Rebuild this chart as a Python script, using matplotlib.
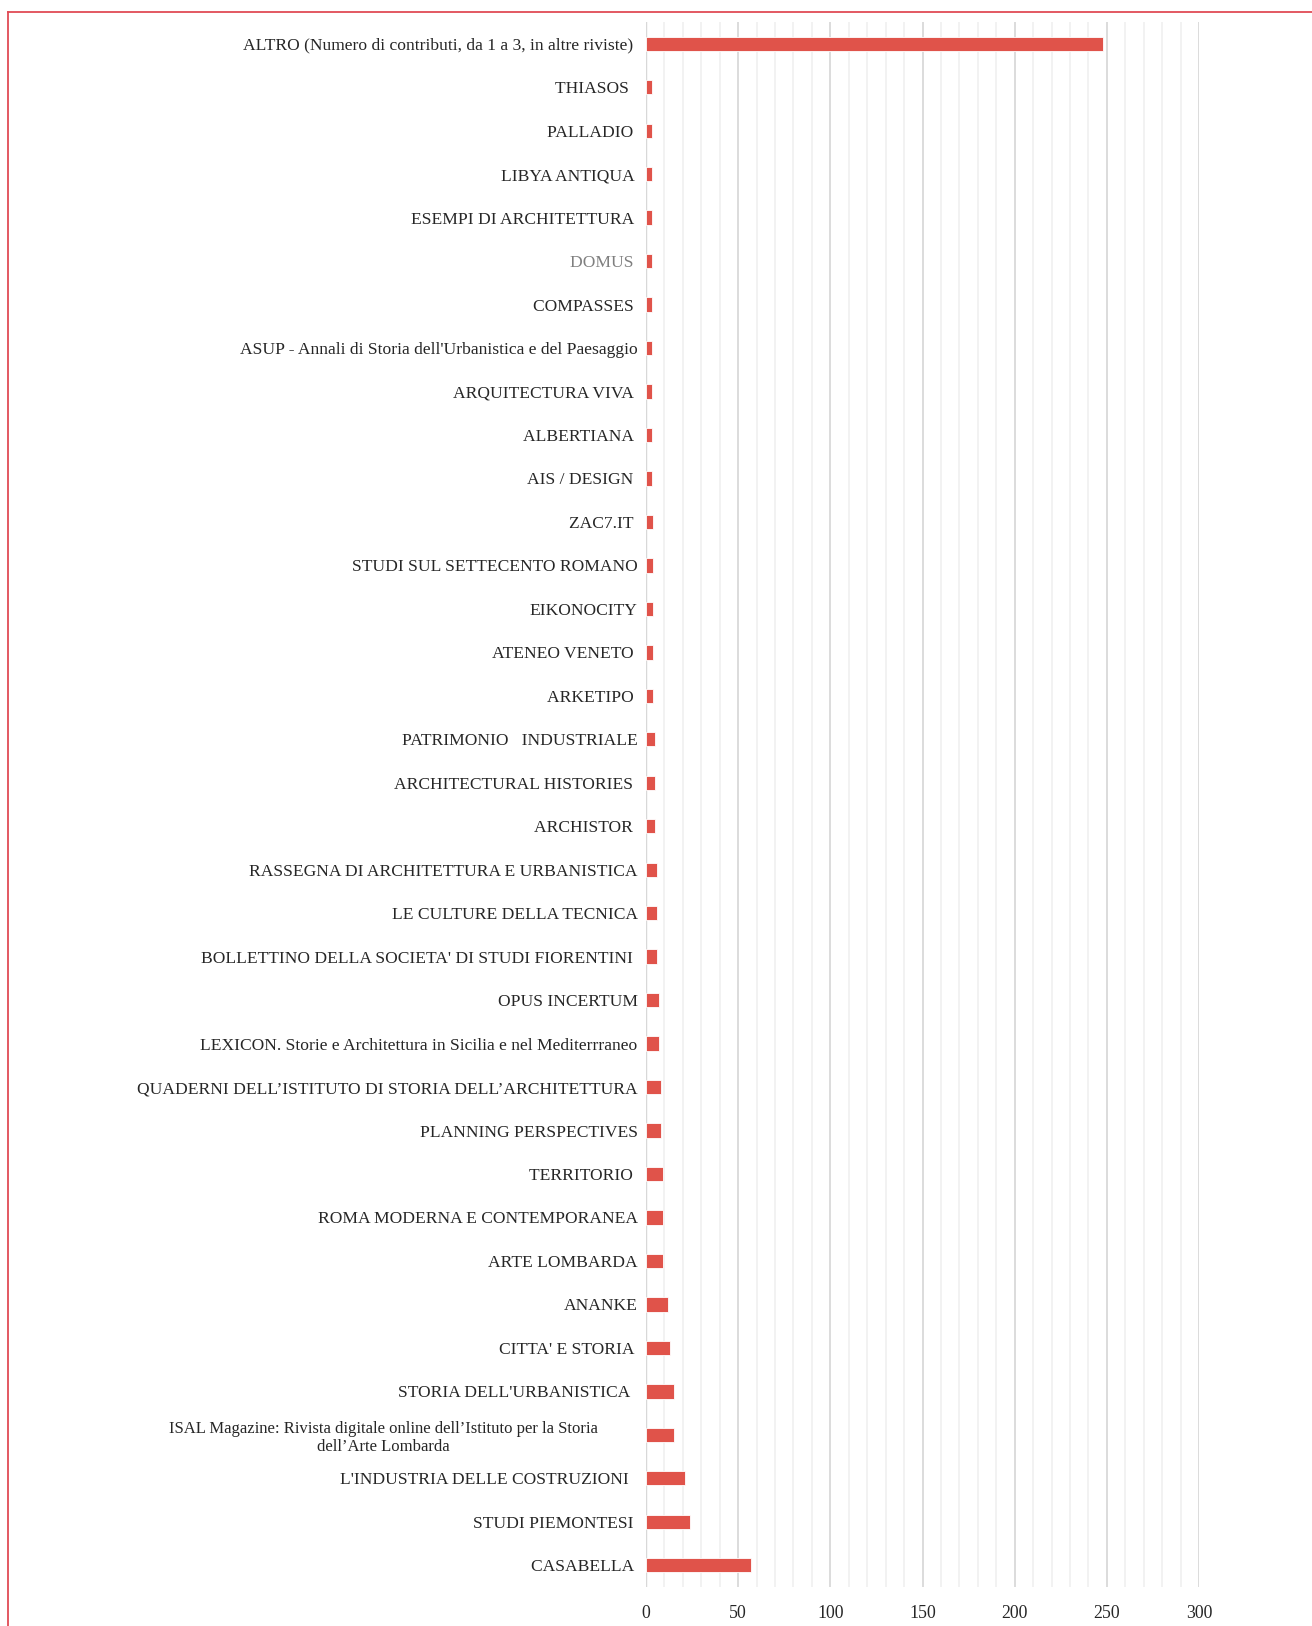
import matplotlib
matplotlib.use("Agg")
import matplotlib.pyplot as plt
from matplotlib.lines import Line2D
from matplotlib.transforms import ScaledTranslation

# Data (top to bottom as displayed)
journals = [
    "ALTRO (Numero di contributi, da 1 a 3, in altre riviste) ",
    "THIASOS  ",
    "PALLADIO ",
    "LIBYA ANTIQUA ",
    "ESEMPI DI ARCHITETTURA ",
    "DOMUS ",
    "COMPASSES ",
    "ASUP - Annali di Storia dell'Urbanistica e del Paesaggio",
    "ARQUITECTURA VIVA ",
    "ALBERTIANA ",
    "AIS / DESIGN ",
    "ZAC7.IT ",
    "STUDI SUL SETTECENTO ROMANO",
    "EIKONOCITY",
    "ATENEO VENETO ",
    "ARKETIPO ",
    "PATRIMONIO   INDUSTRIALE",
    "ARCHITECTURAL HISTORIES ",
    "ARCHISTOR ",
    "RASSEGNA DI ARCHITETTURA E URBANISTICA",
    "LE CULTURE DELLA TECNICA",
    "BOLLETTINO DELLA SOCIETA' DI STUDI FIORENTINI ",
    "OPUS INCERTUM",
    "LEXICON. Storie e Architettura in Sicilia e nel Mediterrraneo",
    "QUADERNI DELL\u2019ISTITUTO DI STORIA DELL\u2019ARCHITETTURA",
    "PLANNING PERSPECTIVES",
    "TERRITORIO ",
    "ROMA MODERNA E CONTEMPORANEA",
    "ARTE LOMBARDA",
    "ANANKE",
    "CITTA' E STORIA ",
    "STORIA DELL'URBANISTICA  ",
    "ISAL Magazine: Rivista digitale online dell\u2019Istituto per la Storia\ndell\u2019Arte Lombarda",
    "L'INDUSTRIA DELLE COSTRUZIONI  ",
    "STUDI PIEMONTESI ",
    "CASABELLA ",
]
counts = [248, 3, 3, 3, 3, 3, 3, 3, 3, 3, 3, 4, 4, 4, 4, 4, 5, 5, 5, 6,
          6, 6, 7, 7, 8, 8, 9, 9, 9, 12, 13, 15, 15, 21, 24, 57]
x_ticks = [0, 50, 100, 150, 200, 250, 300]

W, H, DPI = 1312, 1626, 100
fig = plt.figure(figsize=(W / DPI, H / DPI), dpi=DPI)
ax = fig.add_axes([646 / W, 1 - 1587 / H, (1199 - 646) / W, (1587 - 22) / H])

serif = ["Liberation Serif", "DejaVu Serif"]
bar_color = "#E0534A"
n = len(journals)
ypos = list(range(n))
ax.barh(ypos, counts, height=0.33, color=bar_color, edgecolor="white", linewidth=0.6, zorder=3)

ax.set_ylim(n - 0.5, -0.5)
ax.set_xlim(0, 300)
ax.set_xticks(x_ticks)
ax.set_xticks(range(0, 301, 10), minor=True)
ax.grid(axis="x", which="major", color="#D9D9D9", linewidth=1.3, zorder=0)
ax.grid(axis="x", which="minor", color="#EFEFEF", linewidth=1.1, zorder=0)
ax.grid(axis="y", visible=False)
for s in ax.spines.values():
    s.set_visible(False)
ax.axvline(0, color="#CFCFCF", linewidth=1.7, zorder=1)
ax.tick_params(axis="both", which="both", length=0)
ax.tick_params(axis="x", pad=13)
ax.tick_params(axis="y", pad=6)
ax.set_yticks(ypos)
ax.set_yticklabels(journals, family=serif, fontsize=12.6, color="#262626")
ax.set_xticklabels([str(t) for t in x_ticks], family=serif, fontsize=12.8, color="#262626")

for i, lab in enumerate(ax.get_yticklabels()):
    if journals[i].startswith("DOMUS"):
        lab.set_color("#7F7F7F")
    if "\n" in journals[i]:
        lab.set_multialignment("center")
        lab.set_fontsize(12)
        lab.set_transform(lab.get_transform() + ScaledTranslation(-0.40, 0, fig.dpi_scale_trans))

# Red border (top and left)
border = "#E14B55"
fig.add_artist(Line2D([8 / W, 1], [1 - 12.5 / H, 1 - 12.5 / H], color=border, linewidth=1.3, transform=fig.transFigure))
fig.add_artist(Line2D([8 / W, 8 / W], [0, 1 - 12.5 / H], color=border, linewidth=1.3, transform=fig.transFigure))

fig.savefig("out.png", dpi=DPI, facecolor="white")
